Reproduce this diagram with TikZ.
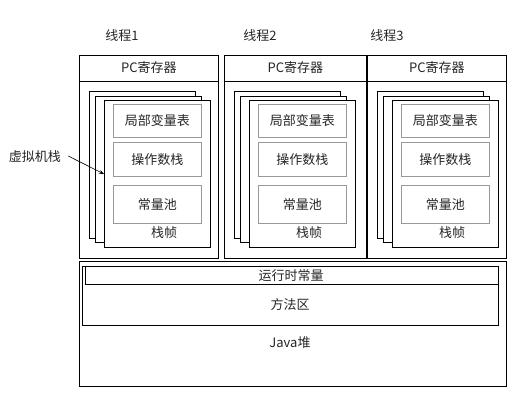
\documentclass[tikz,border=0pt]{standalone}
\usepackage{fontspec}
\setmainfont{Noto Sans CJK SC}
\usetikzlibrary{arrows.meta,calc}
\begin{document}
\begin{tikzpicture}[x=1pt,y=-1pt,
  box/.style={draw=black, line width=0.9pt, inner sep=0pt, fill=white, anchor=north west},
  gbox/.style={draw=black!40, line width=0.9pt, inner sep=0pt, anchor=north west, font=\fontsize{13}{15}\selectfont, text=black!85},
  txt/.style={font=\fontsize{13}{15}\selectfont, inner sep=0pt, text=black!85}]
\useasboundingbox (0,0) rectangle (521,403);
\foreach \i/\L/\W/\lx in {1/79/139/122, 2/224/142/260, 3/367/139/387} {
  \node[txt] (lab\i) at (\lx,36) {线程\i};
  \node[box, minimum width=\W, minimum height=203] (outer\i) at (\L,55) {};
  \draw[line width=0.9pt] ([yshift=-26pt]outer\i.north west) -- ([yshift=-26pt]outer\i.north east);
  \node[txt] (pc\i) at ($(outer\i.north)+(0,13)$) {PC寄存器};
  \node[box, minimum width=106, minimum height=147] (back\i) at (\L+10,91) {};
  \node[box, minimum width=106, minimum height=146] (mid\i) at (\L+16,96) {};
  \node[box, minimum width=106, minimum height=147] (front\i) at (\L+25,100) {};
  \node[gbox, minimum width=88, minimum height=33] (lv\i) at (\L+34,104) {局部变量表};
  \node[gbox, minimum width=88, minimum height=34] (os\i) at (\L+34,142) {操作数栈};
  \node[gbox, minimum width=88, minimum height=38] (cp\i) at (\L+34,185) {常量池};
  \node[txt] (sf\i) at (\L+85,233) {栈帧};
}
\node[txt] (vms) at (35,157) {虚拟机栈};
\coordinate (vmsend) at (104,174);
\draw[line width=0.6pt, -{Stealth[length=5pt,width=4pt]}] ([xshift=7pt,yshift=1pt]vms.east) -- (vmsend);
\node[box, minimum width=427, minimum height=125] (heap) at (79,261) {};
\node[box, minimum width=416, minimum height=59] (method) at (82,266) {};
\node[box, minimum width=413, minimum height=18] (rt) at (85,266) {};
\node[txt] (rtl) at (291,276) {运行时常量};
\node[txt] (mtl) at (290,305) {方法区};
\node[txt] (hpl) at (290,343) {Java堆};
\end{tikzpicture}
\end{document}
